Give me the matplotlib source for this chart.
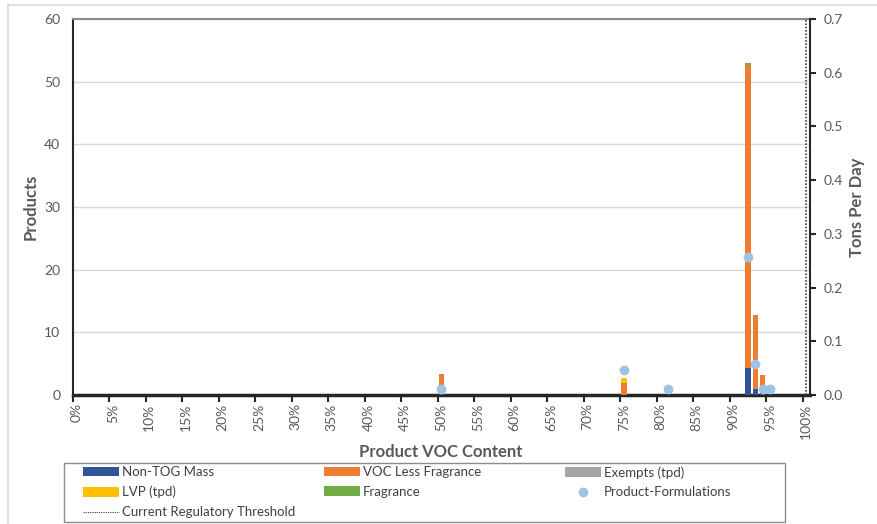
import matplotlib
matplotlib.use("Agg")
import matplotlib.pyplot as plt
from matplotlib.lines import Line2D
from matplotlib.patches import Rectangle, Patch

# ---- data ----
voc_categories = list(range(0, 101))                      # 0% .. 100%
tick_label_values = list(range(0, 101, 5))
tick_labels = [f"{v}%" for v in tick_label_values]

bar_pct = [50, 75, 92, 93, 94]
non_tog_mass = [0.005, 0.0, 0.051, 0.011, 0.003]
voc_less_fragrance = [0.035, 0.022, 0.563, 0.138, 0.034]
exempts_tpd = [0.0, 0.0, 0.0, 0.0, 0.0]
lvp_tpd = [0.0, 0.010, 0.0, 0.0, 0.0]
fragrance = [0.0, 0.0, 0.005, 0.0, 0.0]

point_pct = [50, 75, 81, 92, 93, 94, 95]
product_formulations = [1, 4, 1, 22, 5, 1, 1]

regulatory_threshold = 100

# ---- style ----
FONT = ["Lato", "DejaVu Sans"]
plt.rcParams["font.family"] = FONT
TXT = "#595959"
C_BLUE = "#2F5597"
C_ORANGE = "#ED7D31"
C_GRAY = "#A5A5A5"
C_YELLOW = "#FFC000"
C_GREEN = "#70AD47"
C_POINT = "#9DC3E6"

W, H = 877, 524
fig = plt.figure(figsize=(W / 100, H / 100), dpi=100)
fig.patch.set_facecolor("white")

L, R, T, B = 72.7, 810, 19, 395
rect = [L / W, 1 - B / H, (R - L) / W, (B - T) / H]
ax = fig.add_axes(rect)          # primary: grid + left ticks
ax2 = ax.twinx()                 # secondary: stacked bars (tpd)
ax3 = ax.twinx()                 # primary scale: product points (on top)

# x axis (category axis, ticks between categories)
ax.set_xlim(-0.5, 100.5)
ax.set_xticks([v - 0.5 for v in tick_label_values])
ax.set_xticklabels([])
ax.tick_params(axis="x", which="major", direction="out", length=5, width=1.5, color="#262626")
ax.set_xticks(tick_label_values, minor=True)
ax.set_xticklabels(tick_labels, minor=True, rotation=90, fontsize=10, color=TXT, va="top", ha="center")
ax.tick_params(axis="x", which="minor", length=0, pad=6)

# primary y
ax.set_ylim(0, 60)
ax.set_yticks(range(0, 61, 10))
ax.tick_params(axis="y", length=0, pad=9, labelsize=10, labelcolor=TXT)
ax.grid(axis="y", color="#D9D9D9", linewidth=1.0)
ax.set_axisbelow(True)

# secondary y
ax2.set_ylim(0, 0.7)
ax2.set_yticks([i / 10 for i in range(0, 8)])
ax2.set_yticklabels([f"{i / 10:.1f}" for i in range(0, 8)])
ax2.tick_params(axis="y", direction="out", length=4, width=1.5, pad=6, labelsize=10,
                labelcolor=TXT, color="#262626")

ax3.set_ylim(0, 60)
ax3.set_yticks([])

for a in (ax, ax2, ax3):
    for s in a.spines.values():
        s.set_visible(False)
ax.spines["left"].set_visible(True)
ax.spines["left"].set_color("#262626")
ax.spines["left"].set_linewidth(1.5)
ax.spines["bottom"].set_visible(True)
ax.spines["bottom"].set_color("#262626")
ax.spines["bottom"].set_linewidth(2.5)
ax.spines["top"].set_visible(True)
ax.spines["top"].set_color("#8C8C8C")
ax.spines["top"].set_linewidth(1.5)
ax2.spines["right"].set_visible(True)
ax2.spines["right"].set_color("#262626")
ax2.spines["right"].set_linewidth(1.5)

# stacked bars
bw = 0.73
bottom = [0.0] * len(bar_pct)
series = [(non_tog_mass, C_BLUE), (voc_less_fragrance, C_ORANGE), (exempts_tpd, C_GRAY),
          (lvp_tpd, C_YELLOW), (fragrance, C_GREEN)]
for vals, col in series:
    ax2.bar(bar_pct, vals, width=bw, bottom=bottom, color=col, linewidth=0, zorder=2)
    bottom = [b + v for b, v in zip(bottom, vals)]

# threshold line
ax2.axvline(regulatory_threshold, color="#404040", linestyle=(0, (1, 1)), linewidth=1.2, zorder=3)

# points
ax3.plot(point_pct, product_formulations, linestyle="none", marker="o", markersize=6,
         markerfacecolor=C_POINT, markeredgecolor=C_POINT, zorder=5)

# axis titles
ax.set_ylabel("Products", fontsize=12, fontweight="bold", color=TXT)
ax.yaxis.label.set_va("center")
ax.yaxis.set_label_coords((31 - L) / (R - L), 0.5)
ax2.set_ylabel("Tons Per Day", fontsize=12, fontweight="bold", color=TXT)
ax2.yaxis.label.set_va("center")
ax2.yaxis.set_label_coords((857 - L) / (R - L), 0.5)
ax.set_xlabel("Product VOC Content", fontsize=12, fontweight="bold", color=TXT)
ax.xaxis.label.set_va("center")
ax.xaxis.set_label_coords((441 - L) / (R - L), (B - 452) / (B - T))

# outer chart border (partial, as cropped)
fig.add_artist(Line2D([8 / W, 8 / W], [0, 1 - 5 / H], transform=fig.transFigure,
                      color="#D9D9D9", linewidth=1.2))
fig.add_artist(Line2D([8 / W, 1], [1 - 5 / H, 1 - 5 / H], transform=fig.transFigure,
                      color="#D9D9D9", linewidth=1.2))

# legend box
fig.add_artist(Rectangle((64 / W, 1 - 522 / H), (785 - 64) / W, (522 - 463) / H,
                         transform=fig.transFigure, facecolor="white", edgecolor="#8C8C8C",
                         linewidth=1.0, zorder=0))

h_nontog = Patch(facecolor=C_BLUE, edgecolor="none")
h_voc = Patch(facecolor=C_ORANGE, edgecolor="none")
h_ex = Patch(facecolor=C_GRAY, edgecolor="none")
h_lvp = Patch(facecolor=C_YELLOW, edgecolor="none")
h_frag = Patch(facecolor=C_GREEN, edgecolor="none")
h_pts = Line2D([], [], linestyle="none", marker="o", markersize=6, markerfacecolor=C_POINT,
               markeredgecolor=C_POINT)
h_thr = Line2D([], [], color="#404040", linestyle=(0, (1, 1)), linewidth=0.8)

columns = [
    (83, [h_nontog, h_lvp, h_thr], ["Non-TOG Mass", "LVP (tpd)", "Current Regulatory Threshold"]),
    (324, [h_voc, h_frag], ["VOC Less Fragrance", "Fragrance"]),
    (565, [h_ex, h_pts], ["Exempts (tpd)", "Product-Formulations"]),
]
for xpx, hs, ls in columns:
    fig.legend(hs, ls, loc="upper left", bbox_to_anchor=(xpx / W, 1 - 466 / H),
               bbox_transform=fig.transFigure, frameon=False, fontsize=9.5,
               borderpad=0, borderaxespad=0, handlelength=2.75, handleheight=0.75,
               handletextpad=0.2, labelspacing=0.6, labelcolor="#404040")

fig.savefig("out.png", dpi=100, facecolor="white")
